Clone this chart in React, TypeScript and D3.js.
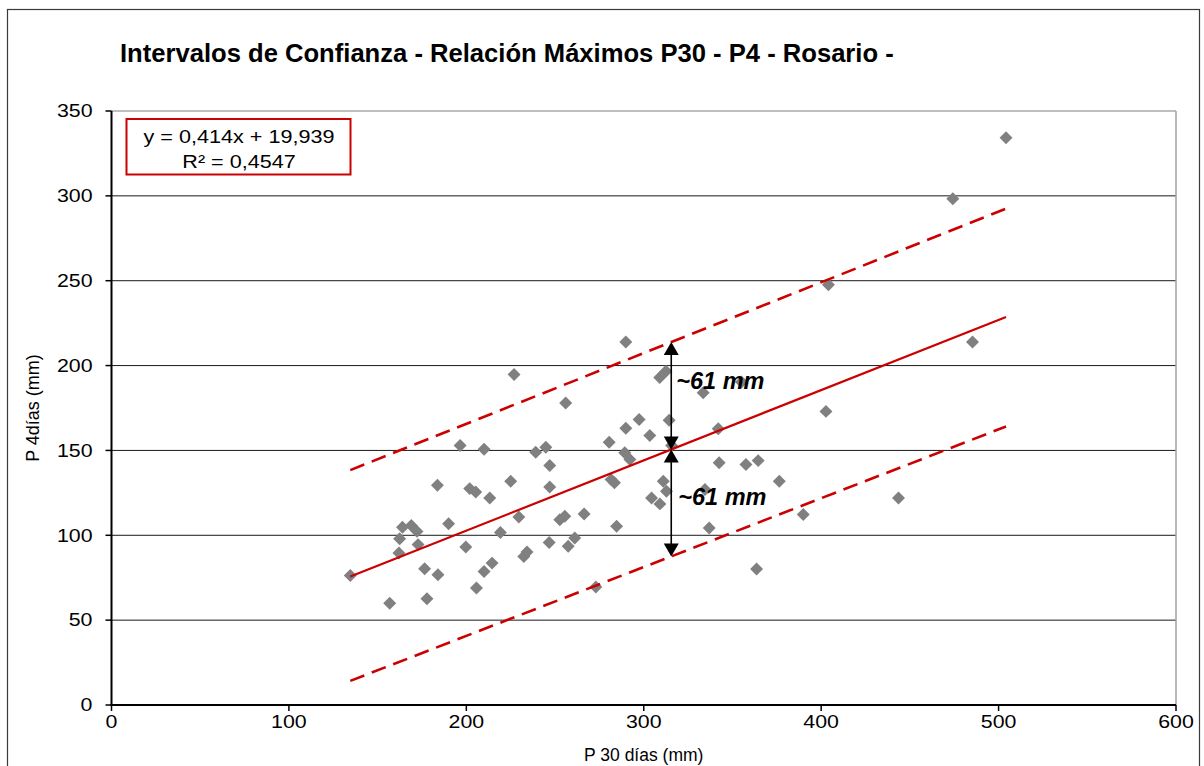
import React from 'react';
import * as d3 from 'd3';

// P 30 días (mm) – monthly maxima
const p30 = [
  134.6, 156.8, 162.0, 162.4, 164.0, 169.0, 172.2, 172.8, 176.5, 177.8,
  183.7, 184.0, 190.0, 196.5, 199.7, 201.9, 205.3, 205.7, 210.0, 210.0,
  213.2, 214.5, 219.2, 225.0, 226.9, 229.6, 232.4, 234.2, 239.1, 244.8,
  246.7, 247.0, 247.0, 252.7, 255.5, 256.0, 257.4, 261.1, 266.4, 273.0,
  280.5, 281.6, 283.5, 284.7, 289.3, 289.9, 289.9, 292.2, 297.4, 303.4,
  304.4, 309.0, 309.1, 311.0, 312.5, 312.8, 314.3, 315.7, 333.5, 334.5,
  336.9, 342.0, 342.5, 355.1, 357.6, 363.6, 364.5, 376.4, 389.9, 402.7,
  404.1, 443.6, 474.2, 485.3, 504.2,
];

// P 4 días (mm) – matching 4-day maxima
const p4 = [
  76.3, 60.0, 89.5, 98.0, 104.7, 105.8, 102.3, 94.5, 80.3, 62.6,
  129.5, 76.7, 106.8, 152.9, 93.1, 127.5, 125.5, 68.9, 150.7, 78.7,
  122.0, 83.6, 101.7, 131.8, 194.8, 110.8, 87.5, 90.1, 148.9, 151.9,
  95.8, 141.1, 128.5, 109.2, 111.2, 178.0, 93.5, 98.4, 112.6, 69.5,
  154.8, 132.8, 130.9, 105.3, 148.6, 213.9, 163.1, 144.6, 168.2, 158.8,
  122.0, 193.0, 118.5, 131.8, 196.6, 125.9, 167.8, 152.9, 184.0, 127.0,
  104.3, 162.8, 142.7, 190.3, 141.7, 80.1, 144.0, 131.8, 112.2, 173.0,
  247.6, 122.0, 298.3, 213.9, 334.3,
];

const xTicks = [0, 100, 200, 300, 400, 500, 600];
const yTicks = [0, 50, 100, 150, 200, 250, 300, 350];

// linear trend  y = a·x + b
const trendSlope = 0.414;
const trendIntercept = 19.939;
// confidence band limits (P4 values) at the first and last P30 of the series
const upperBand = [138.4, 292.5];
const lowerBand = [14.2, 164.1];
// P30 where the band width is marked
const markAt = 315.5;

const titleText = 'Intervalos de Confianza - Relación Máximos P30 - P4 - Rosario -';
const equationText = 'y = 0,414x + 19,939';
const r2Text = 'R² = 0,4547';
const intervalText = '~61 mm';
const xTitle = 'P 30 días (mm)';
const yTitle = 'P 4días (mm)';

const FONT = '"Liberation Sans", Arial, sans-serif';
const RED = '#cc0000';

export default function App() {
  const W = 1204;
  const H = 766;
  const x = d3.scaleLinear().domain([0, 600]).range([111.5, 1176]);
  const y = d3.scaleLinear().domain([0, 350]).range([705, 111]);

  const [xMin, xMax] = d3.extent(p30) as [number, number];
  const trend = (v: number) => trendSlope * v + trendIntercept;
  const lineGen = d3
    .line<[number, number]>()
    .x((d) => x(d[0]))
    .y((d) => y(d[1]));

  const trendPts: [number, number][] = [
    [xMin, trend(xMin)],
    [xMax, trend(xMax)],
  ];
  const upperPts: [number, number][] = [
    [xMin, upperBand[0]],
    [xMax, upperBand[1]],
  ];
  const lowerPts: [number, number][] = [
    [xMin, lowerBand[0]],
    [xMax, lowerBand[1]],
  ];
  const bandAt = (band: number[], v: number) =>
    d3.scaleLinear().domain([xMin, xMax]).range(band)(v);

  const diamond = d3.symbol(d3.symbolSquare, 84)() as string;

  const ax = x(markAt);
  const yMid = y(trend(markAt));
  const yUp = y(bandAt(upperBand, markAt));
  const yLo = y(bandAt(lowerBand, markAt));
  const hw = 7.5; // arrowhead half width
  const hl = 13; // arrowhead length
  const headUp = (tipY: number) =>
    `M${ax},${tipY} L${ax + hw},${tipY + hl} L${ax - hw},${tipY + hl} Z`;
  const headDown = (tipY: number) =>
    `M${ax},${tipY} L${ax + hw},${tipY - hl} L${ax - hw},${tipY - hl} Z`;

  const x0 = x(0);
  const y0 = y(0);

  return (
    <svg
      width={W}
      height={H}
      style={{ position: 'absolute', left: 0, top: 0, background: '#fff' }}
      fontFamily={FONT}
    >
      <rect x={0} y={0} width={W} height={H} fill="#fff" />
      {/* chart area frame */}
      <rect x={7.5} y={9.5} width={1192} height={820} fill="none" stroke="#3a3a3a" strokeWidth={1.2} />

      <text x={120} y={62} fontSize={25.6} fontWeight="bold" fill="#000">
        {titleText}
      </text>

      {/* horizontal gridlines */}
      {yTicks
        .filter((t) => t > 0 && t < 350)
        .map((t) => (
          <line key={`g${t}`} x1={x0} x2={x(600)} y1={y(t)} y2={y(t)} stroke="#1a1a1a" strokeWidth={1} />
        ))}
      {/* plot area border (top / right) */}
      <line x1={x0} x2={x(600)} y1={y(350)} y2={y(350)} stroke="#808080" strokeWidth={1.2} />
      <line x1={x(600)} x2={x(600)} y1={y(350)} y2={y0} stroke="#a0a0a0" strokeWidth={1.5} />

      {/* data points */}
      {p30.map((v, i) => (
        <path
          key={`p${i}`}
          d={diamond}
          transform={`translate(${x(v)},${y(p4[i])}) rotate(45)`}
          fill="#808080"
        />
      ))}

      {/* trend and band lines */}
      <path d={lineGen(trendPts) as string} stroke={RED} strokeWidth={2.2} fill="none" />
      <path d={lineGen(upperPts) as string} stroke={RED} strokeWidth={2.6} strokeDasharray="15 8" fill="none" />
      <path d={lineGen(lowerPts) as string} stroke={RED} strokeWidth={2.6} strokeDasharray="15 8" fill="none" />

      {/* axes */}
      <line x1={x0} x2={x0} y1={y(350)} y2={y0} stroke="#000" strokeWidth={2} />
      <line x1={x0 - 1} x2={x(600)} y1={y0} y2={y0} stroke="#000" strokeWidth={2} />
      {yTicks.map((t) => (
        <g key={`yt${t}`}>
          <line x1={x0 - 6} x2={x0} y1={y(t)} y2={y(t)} stroke="#000" strokeWidth={1.5} />
          <text
            transform={`translate(${x0 - 19},${y(t) + 6.3}) scale(1.22,1)`}
            textAnchor="end"
            fontSize={17.5}
            fill="#000"
          >
            {t}
          </text>
        </g>
      ))}
      {xTicks.map((t) => (
        <g key={`xt${t}`}>
          <line x1={x(t)} x2={x(t)} y1={y0} y2={y0 + 6} stroke="#000" strokeWidth={1.5} />
          <text
            transform={`translate(${x(t)},${y0 + 23}) scale(1.22,1)`}
            textAnchor="middle"
            fontSize={17.5}
            fill="#000"
          >
            {t}
          </text>
        </g>
      ))}

      <text x={x(300)} y={761} textAnchor="middle" fontSize={17.5} fill="#000">
        {xTitle}
      </text>
      <text
        transform={`translate(39,${y(175)}) rotate(-90)`}
        textAnchor="middle"
        fontSize={18}
        fill="#000"
      >
        {yTitle}
      </text>

      {/* equation box */}
      <rect x={126.5} y={119} width={224} height={55.5} fill="#fff" stroke={RED} strokeWidth={2} />
      <text transform={`translate(239,142.5) scale(1.2,1)`} textAnchor="middle" fontSize={18} fill="#000">
        {equationText}
      </text>
      <text transform={`translate(239,167.5) scale(1.2,1)`} textAnchor="middle" fontSize={18} fill="#000">
        {r2Text}
      </text>

      {/* band width markers */}
      <line x1={ax} x2={ax} y1={yUp + 4} y2={yMid - 4} stroke="#000" strokeWidth={1.6} />
      <line x1={ax} x2={ax} y1={yMid + 4} y2={yLo - 4} stroke="#000" strokeWidth={1.6} />
      <path d={headUp(yUp)} fill="#000" />
      <path d={headDown(yMid)} fill="#000" />
      <path d={headUp(yMid)} fill="#000" />
      <path d={headDown(yLo)} fill="#000" />
      <text
        x={ax + 5}
        y={y(trend(markAt) + 35.5)}
        fontSize={23.5}
        fontWeight="bold"
        fontStyle="italic"
        fill="#000"
      >
        {intervalText}
      </text>
      <text
        x={ax + 7}
        y={y(trend(markAt) - 32.5)}
        fontSize={23.5}
        fontWeight="bold"
        fontStyle="italic"
        fill="#000"
      >
        {intervalText}
      </text>
    </svg>
  );
}
